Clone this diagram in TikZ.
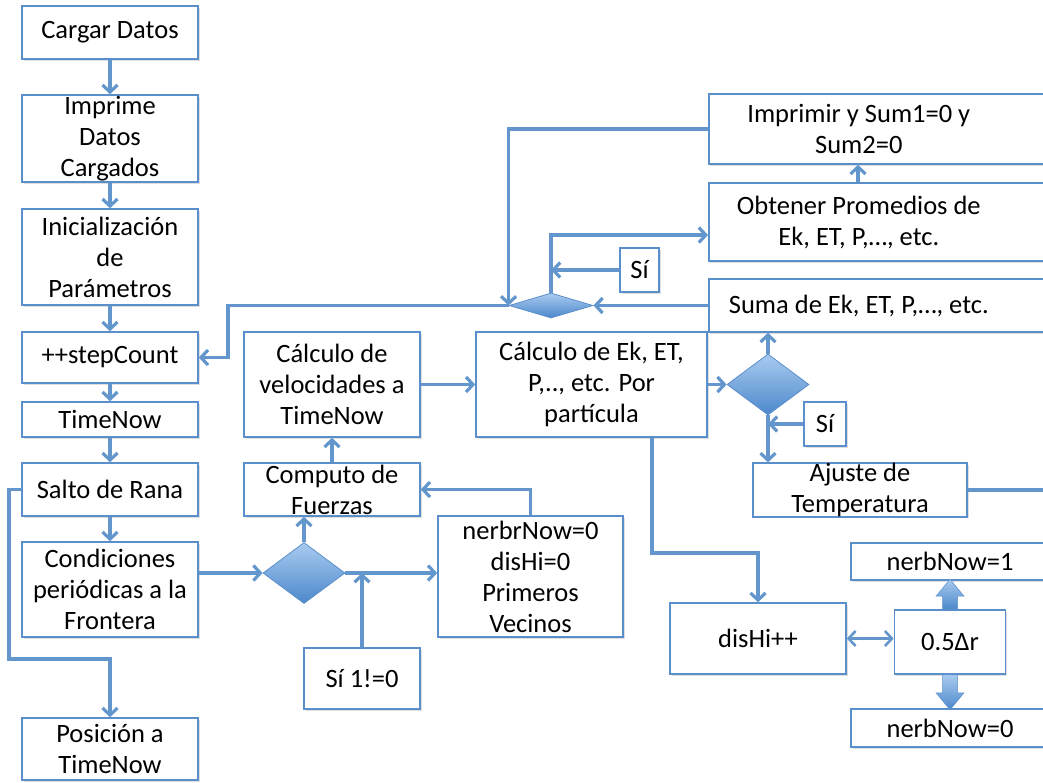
\documentclass[tikz,border=0pt]{standalone}
\usepackage{fontspec}
\setmainfont{Carlito}
\usepackage{tikz}
\usetikzlibrary{arrows.meta,calc,shapes.geometric,shadows}
\definecolor{LineBlue}{HTML}{6396CC}
\definecolor{EdgeBlue}{HTML}{5B8FCB}
\definecolor{DiaTop}{HTML}{A9CBF0}
\definecolor{DiaBot}{HTML}{4C88CB}

\begin{document}
\begin{tikzpicture}[x=1pt, y=-1pt, >={Straight Barb[length=7pt,width=15pt]},
    box/.style={draw=EdgeBlue, line width=1.6pt, fill=white, align=center, inner sep=0pt,
        drop shadow={shadow xshift=1.5pt, shadow yshift=-1.5pt, opacity=0.25}},
    decision/.style={diamond, draw=EdgeBlue, line width=0.8pt, top color=DiaTop, bottom color=DiaBot, inner sep=0pt},
    flow/.style={->, draw=LineBlue, line width=3.2pt},
    link/.style={draw=LineBlue, line width=3.2pt},
    font=\fontsize{26.5}{31}\selectfont]

    % Page
    \useasboundingbox (0,0) rectangle (1043,782);
    \clip (0,0) rectangle (1043,782);

    % Main column
    \node[box, minimum width=176pt, minimum height=53pt] (load) at (110,32.5) {Cargar Datos};
    \node[box, minimum width=176pt, minimum height=87pt] (printd) at (110,138.5) {Imprime\\Datos\\Cargados};
    \node[box, minimum width=176pt, minimum height=96pt] (init) at (110,257) {Inicialización\\de\\Parámetros};
    \node[box, minimum width=176pt, minimum height=51pt] (step) at (110,357.5) {++stepCount};
    \node[box, minimum width=176pt, minimum height=35pt] (tnow) at (110,419.5) {TimeNow};
    \node[box, minimum width=176pt, minimum height=53pt] (leap) at (110,489.5) {Salto de Rana};
    \node[box, minimum width=176pt, minimum height=95pt] (pbc) at (110,589.5) {Condiciones\\periódicas a la\\Frontera};
    \node[box, minimum width=176pt, minimum height=62pt] (pos) at (110,749) {Posición a\\TimeNow};

    % Forces and velocities
    \node[box, minimum width=176pt, minimum height=105pt] (vel) at (332,384.5) {Cálculo de\\velocidades a\\TimeNow};
    \node[box, minimum width=176pt, minimum height=53pt] (comp) at (332,489.5) {Computo de\\Fuerzas};
    \node[decision, minimum width=82pt, minimum height=61pt] (dec1) at (304,573) {};
    \node[box, minimum width=185pt, minimum height=121pt] (nbr) at (530.5,576.5) {nerbrNow=0\\disHi=0\\Primeros\\Vecinos};
    \node[box, minimum width=116pt, minimum height=61pt] (yes1) at (362,678.5) {Sí 1!=0};

    % Energies per particle
    \node[box, minimum width=231pt, minimum height=105pt] (ekp) at (591.5,384.5) {Cálculo de Ek, ET,\\P,.., etc. Por\\partícula};
    \node[decision, minimum width=82pt, minimum height=61pt] (dec2) at (768,384.5) {};
    \node[box, minimum width=42pt, minimum height=44pt] (yes2) at (825,424) {Sí};
    \node[box, minimum width=214pt, minimum height=52pt] (temp) at (860,490) {Ajuste de\\Temperatura};
    \coordinate (tempout) at (1060,490);

    % Sums, averages and output
    \node[box, anchor=west, minimum height=70pt] (prt) at (708,129) {\parbox{300pt}{\centering Imprimir y Sum1=0 y\\Sum2=0}\hspace{80pt}};
    \node[box, anchor=west, minimum height=78pt] (avg) at (708,222) {\parbox{300pt}{\centering Obtener Promedios de\\Ek, ET, P,…, etc.}\hspace{80pt}};
    \node[box, anchor=west, minimum height=53pt] (sum) at (708,305.5) {\parbox{300pt}{\centering Suma de Ek, ET, P,…, etc.}\hspace{80pt}};
    \node[decision, minimum width=84pt, minimum height=25pt] (dec3) at (551,305.5) {};
    \node[box, minimum width=39pt, minimum height=44pt] (yes3) at (639.5,270) {Sí};
    \coordinate (back) at (228,305.5);

    % Neighbour count
    \node[box, minimum width=176pt, minimum height=71pt] (dis) at (758,638.5) {disHi++};
    \node[box, minimum width=111pt, minimum height=64pt] (half) at (950,642) {0.5Δr};
    \node[box, minimum width=198pt, minimum height=37pt] (nb1) at (950,561.5) {nerbNow=1};
    \node[box, minimum width=198pt, minimum height=38pt] (nb0) at (950,728) {nerbNow=0};
    \coordinate (ekdn) at (652,553);
    \coordinate (lp) at (9,659);

    % Main column arrows
    \draw[flow] (load) -- (printd);
    \draw[flow] (printd) -- (init);
    \draw[flow] (init) -- (step);
    \draw[flow] (step) -- (tnow);
    \draw[flow] (tnow) -- (leap);
    \draw[flow] (leap) -- (pbc);
    \draw[flow] (leap.west) -| (lp) -| (pos.north);
    \draw[flow] (pbc.east |- dec1) -- (dec1.west);

    % Force loop
    \draw[flow] (dec1.north) -- (dec1.north |- comp.south);
    \draw[flow] (dec1.east) -- (dec1.east -| nbr.west);
    \draw[flow] (yes1.north) -- (yes1.north |- dec1);
    \draw[flow] (nbr.north) |- (comp.east);
    \draw[flow] (comp) -- (vel);
    \draw[flow] (vel) -- (ekp);

    % Temperature branch
    \draw[flow] (ekp.east) -- (dec2.west);
    \draw[flow] (dec2.north) -- (dec2.north |- sum.south);
    \draw[flow] (dec2.south) -- (dec2.south |- temp.north);
    \draw[flow] (yes2.west) -- (dec2 |- yes2.west);
    \draw[link] (temp.east) -- (tempout);

    % Averages and back to the step counter
    \draw[flow] (sum.west |- dec3) -- (dec3.east);
    \draw[flow] (dec3.west) -- (back) |- (step.east);
    \draw[flow] (prt.west) -| (dec3.west);
    \draw[flow] (dec3.north) |- ($(avg.west)+(0,13)$);
    \draw[flow] (yes3.west) -- (dec3.north |- yes3.west);
    \draw[flow] ($(avg.north west)+(150,0)$) -- ($(prt.south west)+(150,0)$);

    % Neighbours
    \draw[flow] (ekp.south -| ekdn) -- (ekdn) -| (dis.north);
    \draw[flow, <->, line width=2.6pt] (dis.east) -- (dis.east -| half.west);
    \shade[top color=DiaTop, bottom color=DiaBot, draw=EdgeBlue, line width=0.5pt]
        ($(half.north)+(-7.5,0)$) -- ++(0,-13) -- ++(-6.5,0) -- ($(half.north)+(0,-30)$)
        -- ($(half.north)+(14,-13)$) -- ++(-6.5,0) -- ($(half.north)+(7.5,0)$) -- cycle;
    \shade[top color=DiaTop, bottom color=DiaBot, draw=EdgeBlue, line width=0.5pt]
        ($(half.south)+(-7.5,0)$) -- ++(0,18) -- ++(-6.5,0) -- ($(half.south)+(0,35)$)
        -- ($(half.south)+(14,18)$) -- ++(-6.5,0) -- ($(half.south)+(7.5,0)$) -- cycle;

\end{tikzpicture}
\end{document}
